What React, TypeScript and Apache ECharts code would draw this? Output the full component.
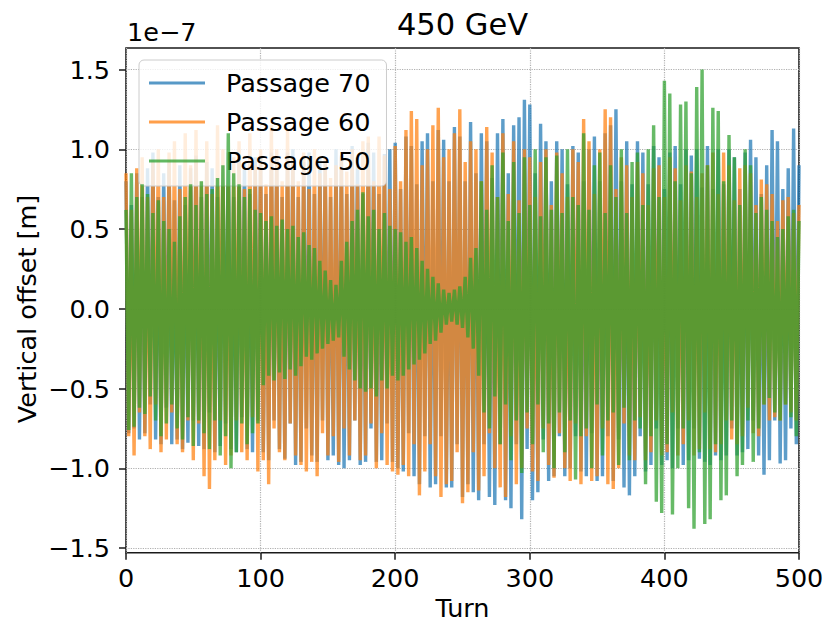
import React, { useEffect, useRef } from "react";
import * as echarts from "echarts";

// Turn step between samples
const TURN_STEP = 2;
const X_TICKS = [0, 100, 200, 300, 400, 500];
const Y_TICKS = [-1.5, -1.0, -0.5, 0.0, 0.5, 1.0, 1.5];
const SERIES_NAMES = ["Passage 70", "Passage 60", "Passage 50"];

// values in units of 1e-7 m, one sample every TURN_STEP turns (turn 0..500)
const passage70 = [
  0.8,-0.78,0.65,-0.75,0.85,-0.82,0.7,-0.78,0.88,-0.6,
  0.98,-0.82,0.7,-0.85,0.85,-0.62,0.92,-0.85,0.68,-0.82,
  0.9,-0.88,0.65,-0.84,0.88,-0.7,0.96,-0.86,0.7,-0.88,
  0.92,-0.65,0.88,-0.9,0.7,-0.86,0.9,-0.72,0.98,-0.88,
  0.7,-0.9,0.95,-0.68,0.92,-0.88,0.72,-0.9,0.95,-0.7,
  0.96,-0.9,0.72,-0.95,0.98,-0.7,0.95,-0.88,0.7,-0.94,
  0.98,-0.72,1.0,-0.98,0.7,-0.96,0.92,-0.75,0.98,-0.92,
  0.72,-0.96,0.95,-0.7,0.92,-0.95,0.7,-0.92,1.0,-0.98,
  0.96,-1.0,0.72,-0.95,1.02,-0.7,0.95,-0.98,0.72,-0.96,
  1.04,-0.75,0.98,-0.96,0.72,-0.95,0.97,-0.72,1.0,-0.96,
  1.04,-1.0,0.75,-1.02,1.08,-0.78,1.02,-1.05,0.78,-1.1,
  1.05,-0.8,1.1,-1.12,0.8,-1.1,1.12,-0.8,1.06,-1.12,
  0.8,-1.12,1.14,-0.85,1.08,-1.18,0.8,-1.1,1.17,-1.15,
  0.85,-1.2,1.1,-0.85,1.05,-1.18,0.82,-1.23,1.1,-0.85,
  1.19,-1.2,0.85,-1.25,1.15,-0.85,1.2,-1.32,1.31,-0.88,
  1.28,-1.2,0.85,-1.15,1.16,-0.82,1.05,-1.08,0.8,-1.05,
  1.05,-0.8,1.0,-1.05,0.78,-1.0,1.02,-0.8,0.98,-1.02,
  0.8,-1.05,1.0,-0.78,1.08,-1.08,0.8,-1.05,1.1,-0.8,
  1.15,-1.08,1.25,-0.82,0.8,-1.12,1.05,-1.17,0.78,-1.05,
  1.05,-0.8,0.98,-1.02,0.78,-0.98,1.02,-0.75,0.95,-0.98,
  0.75,-0.95,0.98,-1.0,1.02,-0.75,0.78,-0.98,1.0,-0.95,
  0.96,-0.75,1.0,-0.94,0.76,-0.96,1.02,-0.98,0.75,-0.92,
  1.0,-0.95,0.78,-0.92,1.0,-0.75,0.95,-0.92,0.75,-0.9,
  0.98,-0.88,1.06,-0.7,0.95,-0.92,0.72,-1.04,0.9,-0.95,
  1.12,-0.7,1.05,-0.97,0.75,-0.95,0.88,-0.75,1.13,-0.85,
  0.9,
];

const passage60 = [
  0.85,-0.8,0.62,-0.92,0.88,-0.65,0.95,-0.8,0.7,-0.88,
  0.92,-0.6,1.0,-0.9,0.7,-0.82,0.98,-0.65,1.05,-0.85,
  0.75,-0.9,1.1,-0.7,0.9,-0.95,1.12,-0.72,0.8,-1.05,
  1.05,-1.13,0.72,-0.95,1.15,-0.7,1.0,-0.98,0.78,-0.92,
  0.95,-0.7,1.05,-0.9,0.75,-0.95,1.1,-0.68,0.9,-1.02,
  1.0,-0.95,0.78,-1.1,1.15,-0.75,1.0,-0.9,0.8,-0.95,
  1.12,-0.72,0.95,-0.92,0.8,-0.98,0.98,-1.02,0.75,-0.96,
  1.0,-1.05,0.85,-0.78,0.95,-0.92,0.82,-0.8,0.9,-0.96,
  0.95,-0.75,0.86,-0.92,1.0,-0.7,0.78,-0.95,1.05,-0.92,
  1.08,-0.72,0.8,-1.0,1.08,-0.78,0.96,-0.98,0.75,-1.02,
  1.02,-1.04,0.8,-0.98,1.12,-1.05,1.24,-0.85,1.19,-1.17,
  0.9,-1.02,1.0,-0.85,1.15,-1.05,1.26,-1.18,0.95,-1.1,
  1.0,-1.08,1.1,-0.9,1.25,-1.22,0.92,-1.15,1.05,-0.9,
  1.0,-1.14,0.8,-1.05,1.14,-0.78,0.98,-1.0,0.7,-1.12,
  1.1,-1.18,0.72,-0.8,1.05,-1.1,0.68,-1.0,1.0,-0.75,
  0.95,-1.02,0.7,-1.08,0.92,-0.75,1.0,-0.98,0.65,-1.06,
  0.98,-0.78,0.85,-1.0,0.7,-1.08,1.0,-0.72,0.92,-1.1,
  1.19,-0.8,1.05,-1.08,0.72,-1.05,1.0,-0.75,1.25,-1.1,
  1.2,-1.13,0.75,-1.0,0.95,-0.72,0.9,-0.92,0.7,-0.95,
  0.92,-0.68,0.85,-0.95,0.65,-0.9,0.88,-0.7,0.9,-0.92,
  0.7,-0.9,0.95,-0.65,0.88,-0.92,0.68,-0.85,0.9,-0.7,
  0.86,-0.92,0.7,-0.88,0.85,-0.65,0.9,-0.88,0.98,-0.9,
  0.72,-0.85,0.98,-0.7,0.9,-0.82,0.68,-0.85,0.88,-0.8,
  0.9,-0.62,0.85,-0.78,0.65,-0.8,0.81,-0.6,0.78,-0.7,
  0.72,-0.68,0.55,-0.7,0.68,-0.6,0.7,-0.65,0.6,-0.7,
  0.65,
];

const passage50 = [
  0.62,-0.76,0.85,-0.74,0.7,-0.62,0.78,-0.66,0.72,-0.55,
  0.6,-0.7,0.68,-0.8,0.55,-0.72,0.5,-0.6,0.42,-0.75,
  0.58,-0.82,0.7,-0.68,0.78,-0.86,0.65,-0.7,0.8,-0.78,
  0.72,-0.88,0.75,-0.7,0.82,-0.92,0.9,-0.8,1.1,-1.0,
  0.85,-0.9,0.78,-0.72,0.7,-0.85,0.75,-0.78,0.62,-0.72,
  0.6,-0.48,0.55,-0.42,0.58,-0.45,0.52,-0.4,0.56,-0.44,
  0.5,-0.38,0.52,-0.42,0.45,-0.36,0.48,-0.3,0.4,-0.32,
  0.38,-0.28,0.3,-0.25,0.24,-0.22,0.18,-0.2,0.15,-0.18,
  0.3,-0.3,0.42,-0.38,0.55,-0.45,0.62,-0.5,0.73,-0.52,
  0.58,-0.5,0.62,-0.55,0.5,-0.45,0.6,-0.5,0.52,-0.42,
  0.5,-0.45,0.48,-0.42,0.42,-0.38,0.45,-0.35,0.38,-0.32,
  0.3,-0.28,0.25,-0.22,0.2,-0.2,0.16,-0.15,0.12,-0.1,
  0.1,-0.08,0.12,-0.1,0.14,-0.12,0.2,-0.18,0.32,-0.25,
  0.38,-0.42,0.8,-0.65,0.62,-0.75,0.9,-0.55,0.7,-0.85,
  0.98,-0.6,0.55,-0.95,0.92,-0.7,0.6,-1.03,0.95,-0.65,
  0.65,-0.85,1.0,-0.6,0.58,-0.9,0.95,-0.72,0.62,-1.0,
  0.96,-0.65,0.6,-0.9,1.0,-0.7,0.7,-1.07,0.65,-0.8,
  1.1,-0.75,0.62,-1.0,0.9,-0.6,0.98,-0.92,0.6,-0.7,
  0.9,-0.65,0.7,-0.98,1.0,-0.62,0.6,-0.95,0.92,-0.7,
  0.98,-0.75,0.65,-1.1,1.0,-0.8,1.15,-1.21,0.7,-1.28,
  1.43,-0.85,1.35,-1.29,0.8,-1.0,1.28,-0.75,1.3,-1.25,
  0.85,-1.38,1.39,-0.9,1.5,-1.35,0.9,-1.32,1.26,-0.85,
  1.24,-1.2,0.8,-1.17,1.09,-0.7,0.95,-1.05,0.65,-0.98,
  1.0,-0.7,0.9,-0.96,0.6,-0.75,0.7,-0.6,0.62,-0.56,
  0.55,-0.65,0.45,-0.7,0.5,-0.6,0.58,-0.68,0.62,-0.8,
  0.55,
];

const COLORS = ["#1f77b4", "#ff7f0e", "#2ca02c"];
const FONT = "DejaVu Sans";

export default function App() {
  const ref = useRef<HTMLDivElement>(null);
  useEffect(() => {
    if (!ref.current) return;
    const chart = echarts.init(ref.current, null, { renderer: "svg" });
    const seriesData = [passage70, passage60, passage50];
    const fmtY = (v: number) => (v < 0 ? "\u2212" : "") + Math.abs(v).toFixed(1);
    const option: any = {
      animation: false,
      backgroundColor: "#ffffff",
      grid: [
        { left: 126, right: 28, top: 69.5, height: 478.5 },
        {
          left: 126, right: 28, top: 48, height: 504.7,
          show: true, borderColor: "#1a1a1a", borderWidth: 1.6, backgroundColor: "transparent",
        },
      ],
      xAxis: [
        { gridIndex: 0, type: "value", min: X_TICKS[0], max: X_TICKS[X_TICKS.length - 1], show: false },
        {
          gridIndex: 1, type: "value", min: X_TICKS[0], max: X_TICKS[X_TICKS.length - 1], interval: 100,
          axisLine: { show: false, onZero: false },
          axisTick: { show: true, length: 7, lineStyle: { color: "#1a1a1a", width: 1.5 } },
          axisLabel: { color: "#000", fontSize: 25.5, fontFamily: FONT, margin: 12 },
          splitLine: { show: true, lineStyle: { type: "dotted", color: "#b0b0b0", width: 1.2 } },
        },
      ],
      yAxis: [
        {
          gridIndex: 0, type: "value", min: Y_TICKS[0], max: Y_TICKS[Y_TICKS.length - 1], interval: 0.5,
          axisLine: { show: false, onZero: false },
          axisTick: { show: true, length: 7, lineStyle: { color: "#1a1a1a", width: 1.5 } },
          axisLabel: { color: "#000", fontSize: 25.5, fontFamily: FONT, margin: 16, formatter: fmtY },
          splitLine: { show: true, lineStyle: { type: "dotted", color: "#b0b0b0", width: 1.2 } },
        },
        { gridIndex: 1, type: "value", min: 0, max: 1, show: false },
      ],
      legend: {
        orient: "vertical", left: 139, top: 60,
        padding: [10, 16, 12, 10], itemGap: 13,
        itemWidth: 56, itemHeight: 3, icon: "rect",
        backgroundColor: "rgba(255,255,255,0.8)", borderColor: "#cccccc", borderWidth: 1, borderRadius: 5,
        textStyle: { fontSize: 25.5, fontFamily: FONT, color: "#000", padding: [0, 0, 0, 16], lineHeight: 26 },
        itemStyle: { opacity: 0.75 },
        data: SERIES_NAMES,
      },
      graphic: [
        {
          type: "text", x: 462.5, y: 24,
          style: { text: "450 GeV", font: `30.5px "${FONT}"`, fill: "#000", align: "center", verticalAlign: "middle" },
        },
        {
          type: "text", x: 127, y: 32,
          style: { text: "1e\u22127", font: `25.5px "${FONT}"`, fill: "#000", align: "left", verticalAlign: "middle" },
        },
        {
          type: "text", x: 462.5, y: 608,
          style: { text: "Turn", font: `25.5px "${FONT}"`, fill: "#000", align: "center", verticalAlign: "middle" },
        },
        {
          type: "text", x: 27, y: 309, rotation: Math.PI / 2,
          style: { text: "Vertical offset [m]", font: `25.5px "${FONT}"`, fill: "#000", align: "center", verticalAlign: "middle" },
        },
      ],
      series: seriesData.map((arr, k) => ({
        name: SERIES_NAMES[k],
        type: "line",
        xAxisIndex: 0,
        yAxisIndex: 0,
        data: arr.map((v, i) => [i * TURN_STEP, v]),
        showSymbol: false,
        symbol: "none",
        clip: false,
        color: COLORS[k],
        lineStyle: { width: 3.4, opacity: 0.72, color: COLORS[k], join: "miter", miterLimit: 2 },
        z: 2 + k,
      })),
    };
    chart.setOption(option);
    return () => chart.dispose();
  }, []);
  return (
    <div
      ref={ref}
      style={{ position: "fixed", left: 0, top: 0, width: 827, height: 625, background: "#fff" }}
    />
  );
}
